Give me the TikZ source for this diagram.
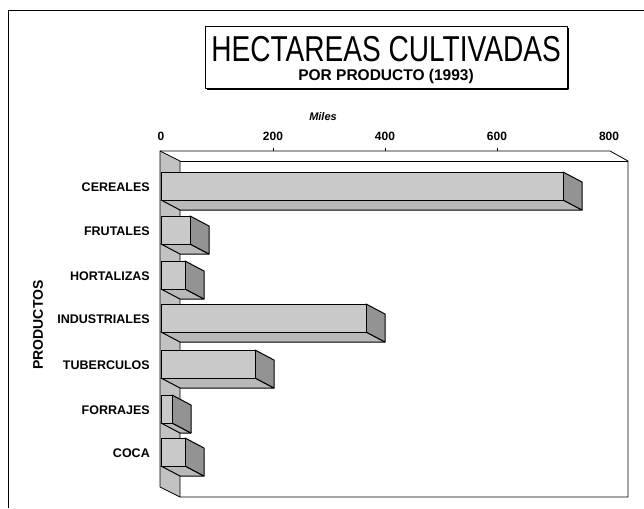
\documentclass[tikz,border=0pt]{standalone}
\usepackage{fontspec}
\setmainfont{Liberation Sans}
\newfontfamily\titfont{Liberation Sans}[FakeStretch=0.78]
\begin{document}
\begin{tikzpicture}[x=1pt, y=-1pt, line join=round,
    every node/.style={inner sep=0pt, font=\bfseries},
    frente/.style={draw, line width=1pt, fill=gray!42},
    lado/.style={draw, line width=1pt, fill=gray!85},
    base/.style={draw, line width=1pt, fill=gray!55},
    cat/.style={anchor=east, font=\bfseries\fontsize{12.5}{14}\selectfont},
    escala/.style={font=\bfseries\fontsize{12}{14}\selectfont}]
    \useasboundingbox (0,0) rectangle (644,508);
    % marco exterior
    \draw[line width=0.8pt] (8,508) -- (8,10) -- (644,10);
    % titulo
    \draw[line width=0.8pt] (205,26) rectangle (567,88);
    \draw[line width=1.6pt] (207,89) -- (568,89) -- (568,28);
    \node (titulo) at (386,49.5) {\titfont\mdseries\fontsize{36}{36}\selectfont HECTAREAS CULTIVADAS};
    \node (subtitulo) at (386,76.5) {\fontsize{15.5}{17}\selectfont POR PRODUCTO (1993)};
    % eje de valores
    \node[font=\bfseries\itshape\fontsize{11}{13}\selectfont] (miles) at (323,117) {Miles};
    \node[escala] (v0) at (161,136) {0};
    \node[escala] (v200) at (273,136) {200};
    \node[escala] (v400) at (385,136) {400};
    \node[escala] (v600) at (497,136) {600};
    \node[escala] (v800) at (609,136) {800};
    % caja 3D
    \draw[line width=0.8pt, fill=gray!48] (160,151) -- (180,161) -- (180,497) -- (160,487) -- cycle;
    \draw[line width=0.8pt] (160,151) -- (610,151) -- (628,161) -- (628,497) -- (180,497);
    \draw[line width=0.8pt] (180,161) -- (628,161);
    \draw (273,148) -- (273,151) (385,148) -- (385,151) (497,148) -- (497,151);
    % CEREALES
    \draw[base] (161,200) -- (563,200) -- (582,210) -- (180,210) -- cycle;
    \draw[lado] (563,172) -- (582,182) -- (582,210) -- (563,200) -- cycle;
    \draw[frente] (161,172) rectangle (563,200);
    % FRUTALES
    \draw[base] (161,244) -- (190,244) -- (209,254) -- (180,254) -- cycle;
    \draw[lado] (190,216) -- (209,226) -- (209,254) -- (190,244) -- cycle;
    \draw[frente] (161,216) rectangle (190,244);
    % HORTALIZAS
    \draw[base] (161,289) -- (185,289) -- (204,299) -- (180,299) -- cycle;
    \draw[lado] (185,261) -- (204,271) -- (204,299) -- (185,289) -- cycle;
    \draw[frente] (161,261) rectangle (185,289);
    % INDUSTRIALES
    \draw[base] (161,332) -- (366,332) -- (385,342) -- (180,342) -- cycle;
    \draw[lado] (366,304) -- (385,314) -- (385,342) -- (366,332) -- cycle;
    \draw[frente] (161,304) rectangle (366,332);
    % TUBERCULOS
    \draw[base] (161,378) -- (255,378) -- (274,388) -- (180,388) -- cycle;
    \draw[lado] (255,350) -- (274,360) -- (274,388) -- (255,378) -- cycle;
    \draw[frente] (161,350) rectangle (255,378);
    % FORRAJES
    \draw[base] (161,423) -- (172,423) -- (191,433) -- (180,433) -- cycle;
    \draw[lado] (172,395) -- (191,405) -- (191,433) -- (172,423) -- cycle;
    \draw[frente] (161,395) rectangle (172,423);
    % COCA
    \draw[base] (161,466) -- (185,466) -- (204,476) -- (180,476) -- cycle;
    \draw[lado] (185,438) -- (204,448) -- (204,476) -- (185,466) -- cycle;
    \draw[frente] (161,438) rectangle (185,466);
    % categorias
    \node[cat] (cereales) at (150,187) {CEREALES};
    \node[cat] (frutales) at (150,231) {FRUTALES};
    \node[cat] (hortalizas) at (150,276) {HORTALIZAS};
    \node[cat] (industriales) at (150,319) {INDUSTRIALES};
    \node[cat] (tuberculos) at (150,365) {TUBERCULOS};
    \node[cat] (forrajes) at (150,410) {FORRAJES};
    \node[cat] (coca) at (150,453) {COCA};
    \node[rotate=90, font=\bfseries\fontsize{14}{16}\selectfont] (productos) at (38,325) {PRODUCTOS};
\end{tikzpicture}
\end{document}
